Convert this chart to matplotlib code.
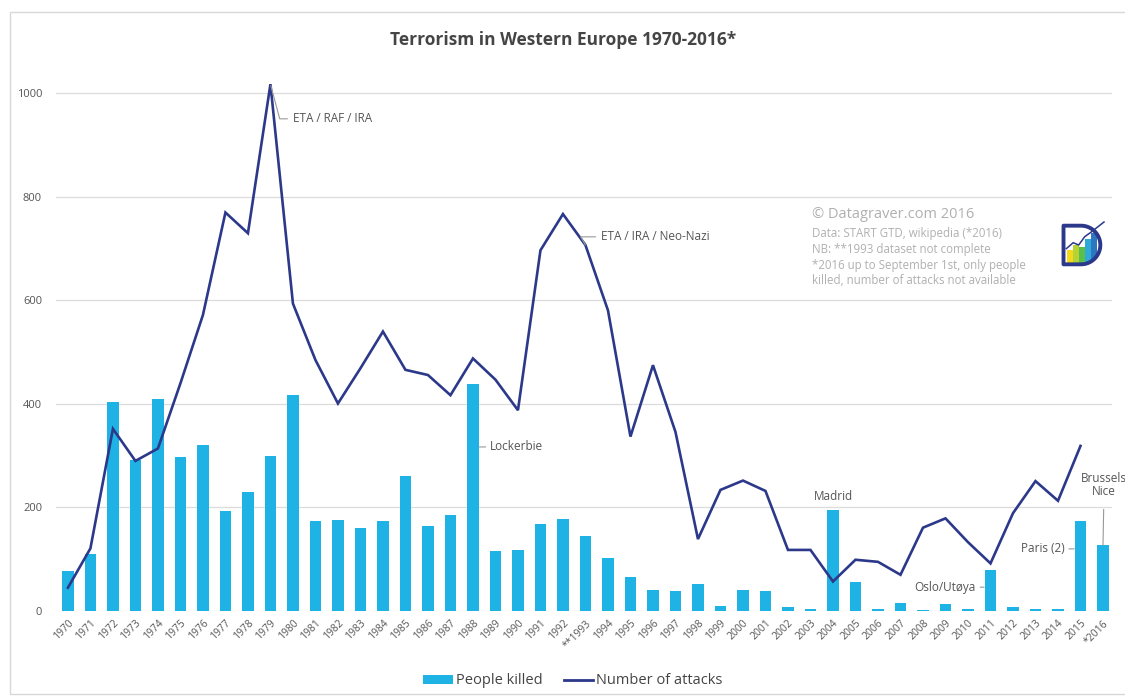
import matplotlib
matplotlib.use("Agg")
import matplotlib.pyplot as plt
import numpy as np
from matplotlib.patches import Rectangle, Patch, PathPatch
from matplotlib.path import Path
from matplotlib.lines import Line2D

plt.rcParams['font.family'] = ['Open Sans', 'DejaVu Sans']

years = ["1970", "1971", "1972", "1973", "1974", "1975", "1976", "1977", "1978", "1979",
         "1980", "1981", "1982", "1983", "1984", "1985", "1986", "1987", "1988", "1989",
         "1990", "1991", "1992", "**1993", "1994", "1995", "1996", "1997", "1998", "1999",
         "2000", "2001", "2002", "2003", "2004", "2005", "2006", "2007", "2008", "2009",
         "2010", "2011", "2012", "2013", "2014", "2015", "*2016"]

people_killed = [77, 110, 404, 292, 410, 297, 321, 193, 229, 300,
                 417, 174, 176, 160, 173, 260, 164, 186, 438, 116,
                 117, 169, 178, 145, 103, 66, 41, 39, 52, 10,
                 40, 39, 7, 4, 195, 57, 4, 15, 1, 13,
                 3, 79, 8, 4, 3, 173, 127]

attacks = [45, 121, 352, 290, 314, 440, 572, 770, 730, 1018,
           594, 485, 401, 469, 540, 466, 456, 417, 488, 447,
           388, 697, 767, 707, 581, 337, 475, 346, 139, 234,
           252, 232, 118, 118, 57, 99, 95, 70, 161, 179,
           133, 92, 189, 251, 213, 319]

yticks = [0, 200, 400, 600, 800, 1000]

BAR = "#1fb3e5"
LINE = "#2c3889"
TXT = "#555555"

W, H = 1125, 698
fig = plt.figure(figsize=(W / 100, H / 100), dpi=100)
fig.patch.set_facecolor("white")

# frame
fig.add_artist(Rectangle((10 / W, 4 / H), 1.2, (H - 16) / H, transform=fig.transFigure,
                         fill=False, edgecolor="#d8d8d8", linewidth=1.0))

ax = fig.add_axes([56 / W, (H - 611) / H, (1112 - 56) / W, (611 - 67.6) / H])
x = np.arange(len(years))
ax.bar(x, people_killed, width=0.52, color=BAR, zorder=2)
ax.plot(np.arange(len(attacks)), attacks, color=LINE, linewidth=1.9, zorder=3,
        solid_joinstyle="miter")

ax.set_xlim(-0.53, 46.4)
ax.set_ylim(0, 1050)
ax.set_yticks(yticks)
ax.set_yticklabels([str(v) for v in yticks], color=TXT, fontsize=8)
ax.set_xticks(x)
ax.set_xticklabels(years, rotation=45, ha="right", rotation_mode="anchor",
                   color=TXT, fontsize=7.5)
ax.tick_params(axis="both", length=0)
ax.tick_params(axis="y", pad=10)
ax.tick_params(axis="x", pad=5)
ax.grid(axis="y", color="#dcdcdc", linewidth=0.9, zorder=0)
for s in ax.spines.values():
    s.set_visible(False)

ann_kw = dict(color=TXT, fontsize=8.5)
ax.annotate("ETA / RAF / IRA", xy=(9, 1018), xytext=(10.0, 951), va="center", ha="left",
            arrowprops=dict(arrowstyle="-", color="#999999", lw=0.8,
                            connectionstyle="angle,angleA=0,angleB=-75,rad=0",
                            shrinkA=2, shrinkB=1), **ann_kw)
ax.annotate("ETA / IRA / Neo-Nazi", xy=(23, 707), xytext=(23.7, 723), va="center", ha="left",
            arrowprops=dict(arrowstyle="-", color="#999999", lw=0.8,
                            connectionstyle="angle,angleA=0,angleB=-60,rad=0",
                            shrinkA=2, shrinkB=0), **ann_kw)
ax.annotate("Lockerbie", xy=(18.28, 317), xytext=(18.75, 317), va="center", ha="left",
            arrowprops=dict(arrowstyle="-", color="#999999", lw=0.8, shrinkA=1, shrinkB=0),
            **ann_kw)
ax.text(34, 222, "Madrid", va="center", ha="center", **ann_kw)
ax.annotate("Oslo/Utøya", xy=(40.72, 46), xytext=(40.35, 46), va="center", ha="right",
            bbox=dict(boxstyle="square,pad=0.25", fc="white", ec="none"),
            arrowprops=dict(arrowstyle="-", color="#999999", lw=0.8, shrinkA=1, shrinkB=0),
            zorder=4, **ann_kw)
ax.annotate("Paris (2)", xy=(44.72, 120), xytext=(44.3, 120), va="center", ha="right",
            arrowprops=dict(arrowstyle="-", color="#999999", lw=0.8, shrinkA=1, shrinkB=0),
            **ann_kw)
ax.annotate("Brussels\nNice", xy=(46, 127), xytext=(46.05, 243), va="center", ha="center",
            linespacing=1.0, annotation_clip=False,
            arrowprops=dict(arrowstyle="-", color="#999999", lw=0.8, shrinkA=6, shrinkB=0),
            **ann_kw)

# title
fig.text(563 / W, 1 - 40 / H, "Terrorism in Western Europe 1970-2016*", ha="center", va="center",
         fontsize=12.5, fontweight="bold", color="#454545")

# watermark
fig.text(812 / W, 1 - 215 / H, "© Datagraver.com 2016", ha="left", va="center",
         fontsize=10.5, color="#b0b0b0")
notes = ["Data: START GTD, wikipedia (*2016)", "NB: **1993 dataset not complete",
         "*2016 up to September 1st, only people", "killed, number of attacks not available"]
for i, n in enumerate(notes):
    fig.text(812 / W, 1 - (234 + i * 15.5) / H, n, ha="left", va="center",
             fontsize=8.3, color="#b0b0b0")

# logo (D shape with small bar chart)
lax = fig.add_axes([1058 / W, 1 - 268 / H, 46 / W, 46 / H])
lax.set_xlim(0, 1)
lax.set_ylim(0, 1)
lax.set_aspect("equal")
lax.axis("off")
theta = np.linspace(np.pi / 2, -np.pi / 2, 40)
dverts = [(0.12, 0.08), (0.12, 0.92), (0.5, 0.92)]
dverts += [(0.5 + 0.42 * np.cos(t), 0.5 + 0.42 * np.sin(t)) for t in theta]
dverts += [(0.12, 0.08), (0.12, 0.08)]
codes = [Path.MOVETO] + [Path.LINETO] * (len(dverts) - 2) + [Path.CLOSEPOLY]
dpath = Path(dverts, codes)
clip = PathPatch(dpath, fc="none", ec="none", transform=lax.transData)
lax.add_patch(clip)
cols = ["#f4d81c", "#b5d334", "#5cbf4a", "#2fa9d8", "#2d77c0"]
hts = [0.32, 0.42, 0.38, 0.55, 0.68]
for i, (c, h) in enumerate(zip(cols, hts)):
    r = Rectangle((0.2 + i * 0.13, 0.08), 0.13, h, color=c, lw=0)
    lax.add_patch(r)
    r.set_clip_path(clip)
lax.add_patch(PathPatch(dpath, fc="none", ec="#2c3889", lw=2.8, joinstyle="round"))
lax.plot([0.18, 0.33, 0.45, 0.58, 0.72, 1.0], [0.42, 0.55, 0.5, 0.68, 0.78, 1.0],
         color="#2c3889", lw=1.1, clip_on=False)

# legend
handles = [Patch(facecolor=BAR, edgecolor="none"),
           Line2D([0], [0], color=LINE, lw=2)]
fig.legend(handles, ["People killed", "Number of attacks"], loc="center",
           bbox_to_anchor=(573 / W, 1 - 681 / H), ncol=2, frameon=False,
           fontsize=10.5, handlelength=2.0, handleheight=0.6, handletextpad=0.2,
           columnspacing=1.5, labelcolor="#444444")

fig.savefig("out.png", dpi=100, facecolor="white")
